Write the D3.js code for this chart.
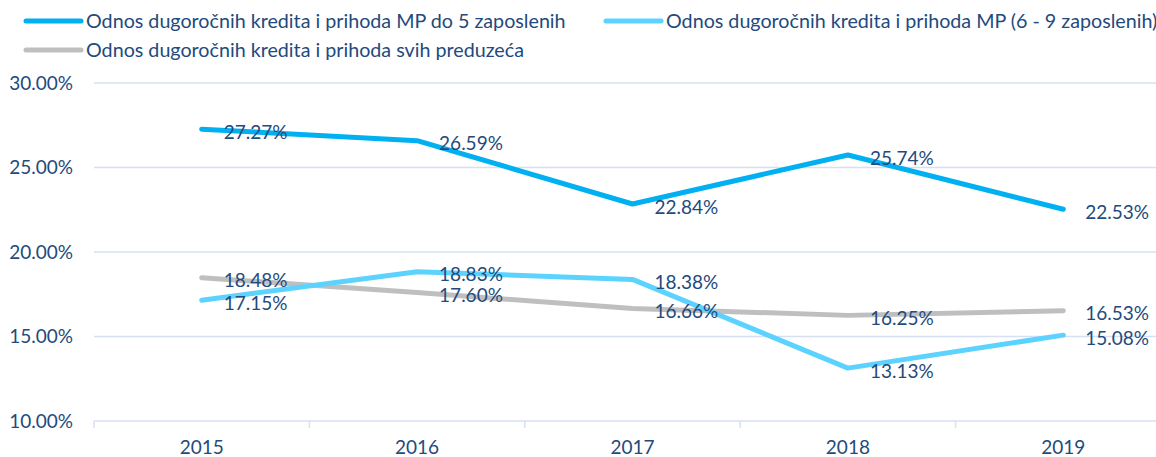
<!DOCTYPE html>
<html><head><meta charset="utf-8">
<script src="https://cdn.jsdelivr.net/npm/d3@7"></script>
<style>body{margin:0;background:#fff;} svg{display:block;font-family:Lato, "Open Sans", sans-serif;}</style>
</head><body>
<svg id="c" width="1156" height="457"></svg>
<script>
const years = ["2015","2016","2017","2018","2019"];
const seriesNames = [
  "Odnos dugoročnih kredita i prihoda MP do 5 zaposlenih",
  "Odnos dugoročnih kredita i prihoda MP (6 - 9 zaposlenih)",
  "Odnos dugoročnih kredita i prihoda svih preduzeća"
];
const mp5 = [27.27, 26.59, 22.84, 25.74, 22.53];
const mp69 = [17.15, 18.83, 18.38, 13.13, 15.08];
const svi = [18.48, 17.60, 16.66, 16.25, 16.53];
const yTicks = [10, 15, 20, 25, 30];
const colors = ["#00B0F0", "#5CD3FF", "#BFBFBF"];
const textColor = "#234A7C";
const fs = 19;
const legFs = 19.7;

const svg = d3.select("#c");
const x = d3.scaleBand().domain(years).range([94, 1171]).padding(0);
const y = d3.scaleLinear().domain([10, 30]).range([421, 83]);

// grid
svg.append("g").selectAll("line").data(yTicks.filter(d => d > 10)).join("line")
  .attr("x1", 94).attr("x2", 1156).attr("y1", d => y(d)).attr("y2", d => y(d))
  .attr("stroke", "#D6E0F2").attr("stroke-width", 1.5);

// y labels
svg.append("g").selectAll("text").data(yTicks).join("text")
  .attr("x", 73).attr("y", d => y(d)).attr("dy", "0.35em")
  .attr("text-anchor", "end").attr("fill", textColor).attr("font-size", fs)
  .text(d => d.toFixed(2) + "%");

// x axis
const xa = svg.append("g").attr("transform", `translate(0,${y(10)})`)
  .call(d3.axisBottom(x).tickSize(0).tickPadding(20));
xa.select(".domain").remove();
xa.selectAll("text").attr("fill", textColor).attr("font-size", fs).attr("font-family", "Lato, sans-serif");
svg.append("line").attr("x1", 94).attr("x2", 1156).attr("y1", y(10)).attr("y2", y(10))
  .attr("stroke", "#D6E0F2").attr("stroke-width", 1.5);
const bounds = years.map(d => x(d));
svg.append("g").selectAll("line").data(bounds).join("line")
  .attr("x1", d => d).attr("x2", d => d).attr("y1", y(10)).attr("y2", y(10) + 7)
  .attr("stroke", "#D6E0F2").attr("stroke-width", 1.5);

const cx = d => x(d) + x.bandwidth() / 2;
const allSeries = [mp5, mp69, svi];
const line = d3.line().x((d, i) => cx(years[i])).y(d => y(d));
// draw order: gray, light, dark
[2, 1, 0].forEach(k => {
  svg.append("path").datum(allSeries[k]).attr("d", line)
    .attr("fill", "none").attr("stroke", colors[k]).attr("stroke-width", 5)
    .attr("stroke-linecap", "round").attr("stroke-linejoin", "round");
});
// labels
[0, 1, 2].forEach(k => {
  svg.append("g").selectAll("text").data(allSeries[k]).join("text")
    .attr("x", (d, i) => cx(years[i]) + 22).attr("y", d => y(d) + 3).attr("dy", "0.35em")
    .attr("fill", textColor).attr("font-size", fs)
    .text(d => d.toFixed(2) + "%");
});

// legend
const leg = [
  {k: 0, x: 26, y: 21},
  {k: 1, x: 606, y: 21},
  {k: 2, x: 26, y: 50}
];
leg.forEach(l => {
  svg.append("line").attr("x1", l.x).attr("x2", l.x + 55).attr("y1", l.y).attr("y2", l.y)
    .attr("stroke", colors[l.k]).attr("stroke-width", 5).attr("stroke-linecap", "round");
  svg.append("text").attr("x", l.x + 60).attr("y", l.y).attr("dy", "0.35em")
    .attr("fill", textColor).attr("font-size", legFs).text(seriesNames[l.k]);
});
</script>
</body></html>
